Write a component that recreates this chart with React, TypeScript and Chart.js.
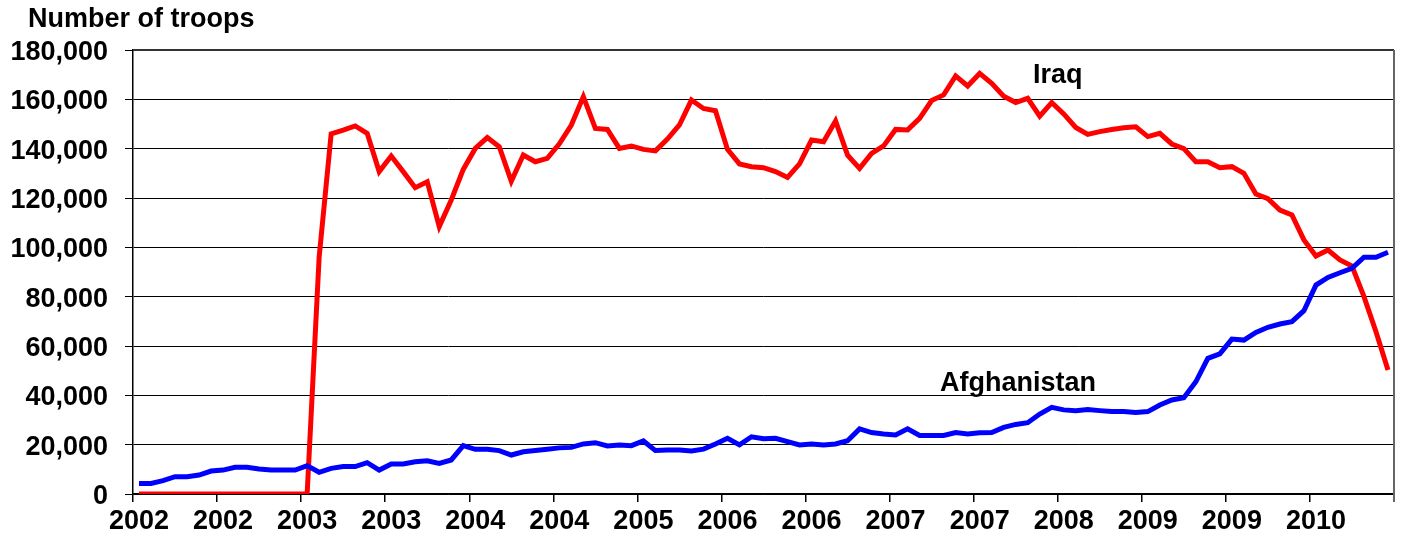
import React, { useEffect, useRef } from "react";
import { Chart, registerables } from "chart.js";

Chart.register(...registerables);

const FONT_FAMILY = "'Liberation Sans', Arial, Helvetica, sans-serif";

// Monthly categories, Jan 2002 .. Sep 2010 (105 months)
const startYear = 2002;
const monthCount = 105;
const categories: string[] = [];
for (let i = 0; i < monthCount; i++) {
  const y = startYear + Math.floor(i / 12);
  const m = (i % 12) + 1;
  categories.push(`${y}-${m < 10 ? "0" + m : m}`);
}

// Tick labels shown every 7 months
const tickLabels = [
  "2002", "2002", "2003", "2003", "2004", "2004", "2005", "2006",
  "2006", "2007", "2007", "2008", "2009", "2009", "2010",
];
const tickEvery = 7;

const iraq = [
  0, 0, 0, 0, 0, 0, 0, 0, 0, 0, 0, 0, 0, 0, 0,
  96000, 146000, 147500, 149200, 146200, 130700, 137000, 130700, 124200, 126600,
  108400, 119200, 131600, 140100, 144500, 140800, 126800, 137400, 134700, 136100,
  142000, 149600, 161100, 148200, 147800, 140100, 141100, 139700, 139100, 143900,
  149600, 159700, 156300, 155400, 139700, 133800, 132700, 132300, 130700, 128300,
  133800, 143500, 142800, 151200, 137400, 132000, 138100, 141100, 147800, 147600,
  152300, 159500, 161800, 169500, 165400, 170500, 166500, 161300, 158700, 160400,
  153200, 158700, 154100, 148600, 145800, 146900, 147800, 148500, 148900, 144900,
  146200, 141900, 140000, 134700, 134700, 132300, 132700, 130000, 121600, 119700,
  115100, 113100, 103000, 96500, 98900, 94900, 92400, 80000, 65800, 50300,
];

const afghanistan = [
  4300, 4300, 5400, 7000, 7000, 7700, 9300, 9700, 10800, 10800,
  10100, 9700, 9700, 9700, 11500, 8800, 10400, 11100, 11100, 12700,
  9700, 12200, 12200, 13100, 13500, 12400, 13800, 19600, 18100, 18100,
  17600, 15800, 17100, 17600, 18100, 18700, 18900, 20300, 20800, 19500,
  19900, 19600, 21500, 17600, 17800, 17800, 17400, 18200, 20300, 22600,
  19900, 23200, 22400, 22600, 21200, 19900, 20300, 19900, 20300, 21600,
  26400, 24900, 24300, 23900, 26400, 23700, 23700, 23700, 24900, 24300,
  24800, 24900, 27000, 28200, 28900, 32400, 35100, 34100, 33800, 34300,
  33800, 33400, 33400, 33000, 33400, 36100, 38100, 39000, 45500, 55000,
  56800, 62800, 62400, 65500, 67600, 68900, 69900, 74300, 84700, 87800,
  89700, 91500, 96000, 96000, 98000,
];

const yTicks = { min: 0, max: 180000, step: 20000 };

const titleText = "Number of troops";

// Series name annotations (category index, value at text baseline)
const seriesNames = ["Iraq", "Afghanistan"];
const nameIndex = [76.5, 73.2];
const nameValue = [166600, 41760];

const annotationPlugin = {
  id: "annotations",
  beforeDatasetsDraw(chart: any) {
    const { ctx, chartArea } = chart;
    ctx.save();
    ctx.strokeStyle = "#333333";
    ctx.lineWidth = 2;
    ctx.beginPath();
    ctx.moveTo(chartArea.left, chartArea.top);
    ctx.lineTo(chartArea.right, chartArea.top);
    ctx.stroke();
    ctx.strokeStyle = "#666666";
    ctx.beginPath();
    ctx.moveTo(chartArea.right, chartArea.top);
    ctx.lineTo(chartArea.right, chartArea.bottom + 8);
    ctx.stroke();
    ctx.restore();
  },
  afterDatasetsDraw(chart: any) {
    const { ctx, scales } = chart;
    ctx.save();
    ctx.font = `bold 27px ${FONT_FAMILY}`;
    ctx.fillStyle = "#000";
    ctx.textBaseline = "alphabetic";
    ctx.textAlign = "left";
    ctx.fillText(titleText, 28, 27);
    ctx.textAlign = "center";
    for (let i = 0; i < seriesNames.length; i++) {
      const x = scales.x.getPixelForValue(nameIndex[i]);
      const y = scales.y.getPixelForValue(nameValue[i]);
      ctx.fillText(seriesNames[i], x, y);
    }
    ctx.restore();
  },
};

export default function App() {
  const canvasRef = useRef<HTMLCanvasElement | null>(null);

  useEffect(() => {
    if (!canvasRef.current) return;
    const chart = new Chart(canvasRef.current, {
      type: "line",
      data: {
        labels: categories,
        datasets: [
          {
            label: "Afghanistan",
            data: afghanistan,
            borderColor: "#0000FF",
            backgroundColor: "#0000FF",
            borderWidth: 5,
            pointRadius: 0,
            tension: 0,
          },
          {
            label: "Iraq",
            data: iraq,
            borderColor: "#FF0000",
            backgroundColor: "#FF0000",
            borderWidth: 5,
            pointRadius: 0,
            tension: 0,
          },
        ],
      },
      options: {
        animation: false,
        responsive: true,
        maintainAspectRatio: false,
        layout: { padding: { left: 4, right: 8, top: 50, bottom: 0 } },
        plugins: {
          legend: { display: false },
          tooltip: { enabled: false },
          title: { display: false },
        },
        scales: {
          x: {
            type: "category",
            offset: true,
            grid: {
              offset: true,
              drawOnChartArea: false,
              drawTicks: true,
              tickLength: 8,
              lineWidth: 1.5,
              color: (c: any) =>
                c.type !== "tick" || c.index % tickEvery === 0 ? "#000" : "rgba(0,0,0,0)",
            },
            border: { display: true, color: "#000", width: 1.5 },
            ticks: {
              autoSkip: false,
              maxRotation: 0,
              minRotation: 0,
              padding: 3.6,
              color: "#000",
              font: { family: FONT_FAMILY, size: 27, weight: "bold" },
              callback: (_v: any, index: number) =>
                index % tickEvery === 0 ? tickLabels[index / tickEvery] : "",
            },
            afterFit: (scale: any) => {
              scale.height = 41;
            },
          },
          y: {
            min: yTicks.min,
            max: yTicks.max,
            grid: {
              color: "#000",
              lineWidth: 1,
              tickLength: 8,
            },
            border: { display: true, color: "#000", width: 1.5 },
            ticks: {
              stepSize: yTicks.step,
              padding: 17,
              labelOffset: 2.5,
              color: "#000",
              font: { family: FONT_FAMILY, size: 27, weight: "bold" },
              callback: (v: any) => Number(v).toLocaleString("en-US"),
            },
            afterFit: (scale: any) => {
              scale.width = 129;
            },
          },
        },
      },
      plugins: [annotationPlugin],
    });
    return () => chart.destroy();
  }, []);

  return (
    <div style={{ position: "absolute", left: 0, top: 0, width: 1402, height: 535, background: "#fff" }}>
      <canvas ref={canvasRef} />
    </div>
  );
}
